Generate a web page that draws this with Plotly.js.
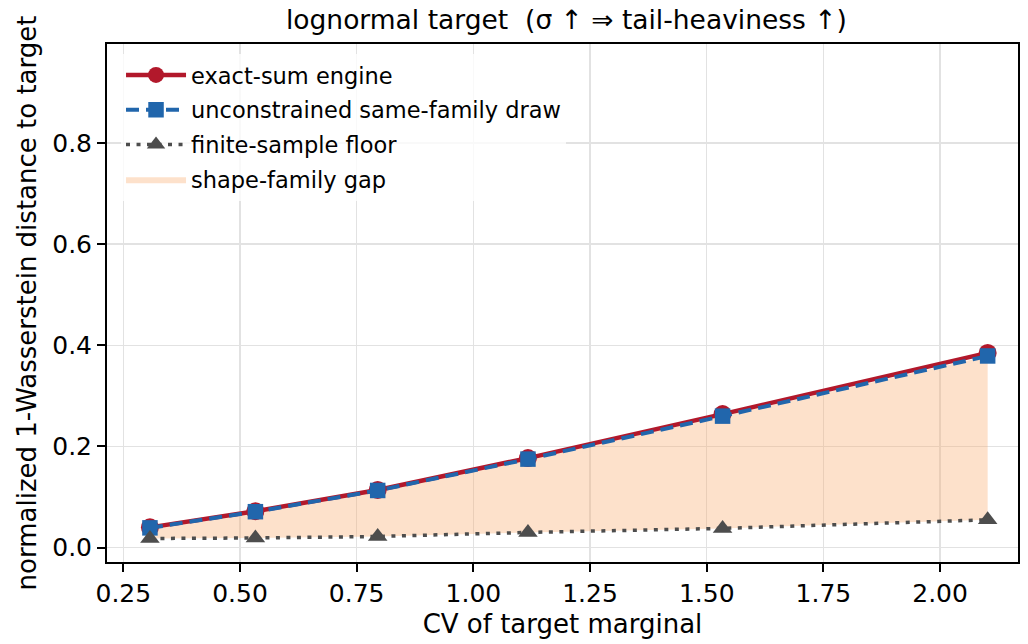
<!DOCTYPE html>
<html><head><meta charset="utf-8">
<script src="https://cdn.plot.ly/plotly-3.0.1.min.js"></script>
<style>html,body{margin:0;padding:0;background:#fff}</style>
</head><body><div id="chart" style="width:1028px;height:644px"></div>
<script>
const cv = [0.307, 0.533, 0.795, 1.117, 1.534, 2.102];
const exactSum = [0.040, 0.072, 0.114, 0.177, 0.264, 0.385];
const unconstrained = [0.039, 0.071, 0.113, 0.175, 0.260, 0.379];
const floorVals = [0.018, 0.019, 0.022, 0.030, 0.038, 0.055];
const xTicks = [0.25, 0.5, 0.75, 1.0, 1.25, 1.5, 1.75, 2.0];
const yTicks = [0.0, 0.2, 0.4, 0.6, 0.8];

const RED = '#b2182b', BLUE = '#2166ac', GREY = '#4d4d4d', PEACH = 'rgba(249,169,106,0.35)';

const traces = [
  {x: cv, y: floorVals, mode: 'lines', line: {width: 0, color: PEACH}, showlegend: false, hoverinfo: 'skip'},
  {x: cv, y: unconstrained, mode: 'lines', fill: 'tonexty', fillcolor: PEACH, line: {width: 0, color: PEACH},
   name: 'shape-family gap', legendrank: 4, legendgroup: 'd'},
  {x: cv, y: exactSum, mode: 'lines+markers', name: 'exact-sum engine', legendrank: 1, legendgroup: 'a',
   line: {color: RED, width: 4.5}, marker: {symbol: 'circle', size: 18, color: RED}},
  {x: cv, y: unconstrained, mode: 'lines+markers', name: 'unconstrained same-family draw', legendrank: 2, legendgroup: 'b',
   line: {color: BLUE, width: 4, dash: '13px,7px'}, marker: {symbol: 'square', size: 15.5, color: BLUE}},
  {x: cv, y: floorVals, mode: 'lines+markers', name: 'finite-sample floor', legendrank: 3, legendgroup: 'c',
   line: {color: GREY, width: 3.5, dash: '4px,6.5px'}, marker: {symbol: 'triangle-up', size: 17, color: GREY}}
];

const axisCommon = {
  showline: true, linecolor: '#000', linewidth: 2, mirror: true,
  ticks: 'outside', ticklen: 8, tickwidth: 2, tickcolor: '#000',
  showgrid: true, gridcolor: '#e2e2e2', gridwidth: 1.5, zeroline: false,
  tickfont: {size: 25, color: '#000'}
};

const layout = {
  width: 1028, height: 644,
  margin: {l: 107, r: 10, t: 44, b: 82},
  paper_bgcolor: '#fff', plot_bgcolor: '#fff',
  font: {family: 'DejaVu Sans', color: '#000'},
  title: {text: 'lognormal target  (σ ↑ ⇒ tail-heaviness ↑)', font: {size: 26.5}, x: 0.551, xanchor: 'center', y: 0.969, yanchor: 'middle'},
  xaxis: Object.assign({}, axisCommon, {
    range: [0.215, 2.167], tickvals: xTicks, ticktext: xTicks.map(v => v.toFixed(2)),
    title: {text: 'CV of target marginal', font: {size: 26}, standoff: 8}
  }),
  yaxis: Object.assign({}, axisCommon, {
    range: [-0.0285, 0.996], tickvals: yTicks, ticktext: yTicks.map(v => v.toFixed(1)),
    title: {text: 'normalized 1-Wasserstein distance to target', font: {size: 26}, standoff: 8}
  }),
  legend: {x: 0.0154, y: 0.981, xanchor: 'left', yanchor: 'top', bgcolor: 'rgba(255,255,255,0.8)',
    borderwidth: 0, font: {size: 22.5}, traceorder: 'grouped', tracegroupgap: 2.5, itemwidth: 60},
  showlegend: true
};

Plotly.newPlot('chart', traces, layout, {displayModeBar: false, staticPlot: true});
</script>
</body></html>
